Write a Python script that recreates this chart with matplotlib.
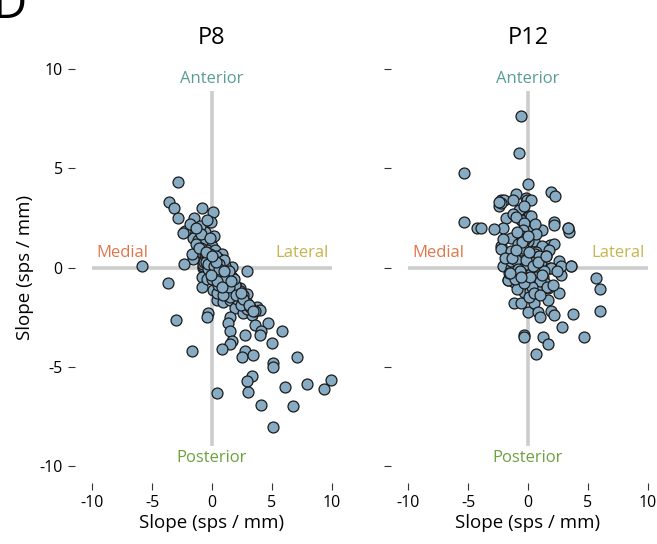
import matplotlib
matplotlib.use("Agg")
import matplotlib.pyplot as plt
import numpy as np

plt.rcParams['font.family'] = ['Open Sans', 'DejaVu Sans']
plt.rcParams['axes.unicode_minus'] = False

# P8 slopes (medial-lateral, anterior-posterior), sps / mm
p8_x = [-2.8, -3.6, -3.2, -0.8, 0.1, -2.8, -1.5, -0.1, -2.3, -1.4, -0.6, -1.0,
        -1.6, -1.2, -0.6, 0.0, -1.0, -0.6, -1.6, -0.6, 0.1, -5.8, -0.75, 0.1,
        -0.4, 0.25, 0.8, 0.5, -0.75, 0.9, 1.7, 2.9, -2.25, -2.4, -1.7, -2.3,
        -0.8, -0.8, 0.1, 0.9, 1.7, 2.3, 2.9, 0.4, 0.9, 1.5, 2.2, 2.9, 3.75,
        4.0, 1.9, 2.6, 3.3, -0.3, -0.4, 1.5, 1.3, 3.6, 4.7, 5.8, 1.5, 4.1,
        4.0, 2.75, 1.7, 1.5, 5.0, -1.7, 0.8, 2.75, 2.5, 3.4, 7.1, 5.1, 5.1,
        3.3, 2.9, 7.9, 6.1, 9.9, 9.3, 0.4, 3.0, 4.1, 6.75, 5.1, -3.7, -3.0,
        -0.75, 0.0, 1.5, -0.4, 0.4, 1.3, 2.0, -0.7, 0.0, 0.7, 1.7, 1.0, 0.0,
        0.8, 1.6, 2.3, 0.4, 1.2, 2.1, 2.9, 3.6, 0.5, 1.5, 2.4, 0.3, 1.1,
        -0.3, 0.6, 1.9, 2.6, -1.3, -0.2, 0.5, 1.2, 2.2, 3.2, -0.5, 0.2,
        1.0, 1.8, 0.3, -0.9, 0.6, 1.4, -0.1, 0.9,
        -1.1, -0.5, -0.9, -0.2, -0.3, 0.2, 0.6, 1.1, 0.4, 1.4, 2.0, 2.6,
        3.1, 3.4, -0.1, 0.3, 1.0, 1.6, 0.0, -1.8, -1.3, -0.4, 0.8, 2.4]
p8_y = [4.3, 3.3, 3.0, 3.0, 2.8, 2.5, 2.5, 2.3, 1.8, 1.9, 1.8, 2.1,
        1.5, 1.4, 1.3, 1.1, 0.76, 0.6, 0.45, 0.45, 0.5, 0.1, 0.0, -0.05,
        0.9, 0.9, 0.7, 0.5, 0.1, -0.05, 0.05, -0.2, 1.85, 1.75, 0.7, 0.2,
        -0.5, -1.0, -1.15, -0.8, -1.15, -1.05, -1.35, -1.65, -1.75, -1.65, -1.75, -1.8, -2.0,
        -2.15, -2.05, -2.3, -2.4, -2.3, -2.5, -2.5, -2.8, -2.9, -2.8, -3.2, -3.2, -3.2,
        -3.4, -3.4, -3.7, -3.85, -3.8, -4.2, -4.1, -4.2, -4.5, -4.4, -4.5, -4.8, -5.0,
        -5.45, -5.7, -5.85, -6.0, -5.65, -6.1, -6.3, -6.25, -6.95, -7.0, -8.05, -0.8, -2.67,
        0.2, 0.0, -0.9, -0.6, -0.3, -0.7, -1.0, 0.3, -0.6, -0.4, -0.5, -0.5, -0.2,
        -0.3, -0.8, -1.2, -1.3, -1.1, -1.6, -2.1, -2.2, -0.9, -1.5, -1.9, 0.6, 0.1,
        -0.1, -0.1, -0.9, -1.4, 1.2, 0.7, 0.3, -0.3, -1.4, -2.0, 0.3, 1.6,
        0.4, -0.6, -0.4, 1.0, 0.2, -0.2, 0.3, -1.4,
        1.0, 0.8, 1.7, 1.5, 0.2, 0.1, -0.1, -0.6, -0.7, -1.0, -1.4, -1.6,
        -1.9, -2.2, -0.4, 0.3, -0.2, -0.7, 0.6, 2.2, 2.0, 2.4, -1.0, -1.3]

# P12 slopes
p12_x = [-0.6, -0.75, -5.3, 0.0, -1.0, -0.15, -2.25, -2.0, -2.4, -1.25, -0.75, -1.8,
         -2.1, -2.8, -5.3, -4.25, -1.4, -0.8, -2.25, -1.7, -0.75, -2.1, -1.4, -0.75,
         1.9, 2.25, -0.1, 0.25, 0.1, 2.2, 1.2, 3.3, 3.4, 0.1, -0.6, 0.5, 1.8,
         1.5, 2.6, 3.6, 2.75, 5.7, 0.3, 1.1, -1.4, 0.8, 1.8, -1.65, -1.2, -0.3,
         -1.7, -0.85, -0.4, -1.2, -0.6, 0.0, -0.3, -0.35, 0.0, 0.85, 1.9, 2.75,
         3.6, 0.65, 1.65, 2.6, 6.0, 0.5, 1.65, 0.8, 1.9, 2.2, 1.0, 3.75, 6.0,
         2.8, -0.3, 1.25, 1.65, 4.65, 0.65, -0.35, -1.25, 0.25, -2.25, -1.0, -0.3,
         -0.4, 2.2, -0.5, -3.9, -2.1, 0.0, -0.4, 1.2, 2.2, 3.3, -2.25, -1.4,
         0.0, 0.65, 1.75, -2.4, -0.8, 0.25, 1.25, 1.5, 0.3, -0.5, 0.9, -1.0,
         0.4, 1.3, -0.2, 0.6, -1.6, 0.7, -0.9, 1.4, 0.2, -0.6, 1.0, -0.1, 0.5,
         -1.1, 0.9, 0.1, -0.4, 1.6, -0.8, 0.3, 2.1, -1.9, 0.6,
         -0.2, 0.4, -0.7, 0.8, -1.3, 1.2, 0.1, -0.5, 0.5, -1.0, 1.5, -0.3,
         0.2, 0.7, -0.9, 2.4, -1.5, 0.0, 1.0, -0.6]
p12_y = [7.65, 5.75, 4.75, 4.2, 3.7, 3.5, 3.4, 3.4, 3.1, 3.4, 2.9, 2.5,
         2.0, 1.95, 2.3, 2.0, 1.5, 1.2, 1.1, 0.7, 0.75, 0.1, 0.0, 0.35,
         3.8, 3.6, 3.4, 3.4, 2.6, 2.3, 1.9, 2.0, 1.8, 2.1, 2.4, 1.35, 1.15,
         0.95, 0.35, 0.1, -0.4, -0.55, 0.5, 0.2, 0.35, -0.15, 0.0, -0.65, -0.75, -1.25,
         -0.65, -0.15, 0.0, -1.8, -1.8, -2.25, -3.4, 0.0, 0.0, 0.0, 0.0, 0.1,
         0.1, -0.9, -1.05, -1.3, -1.1, -1.8, -1.65, -2.25, -2.2, -2.4, -2.5, -2.35, -2.2,
         -3.0, -3.5, -3.5, -3.85, -3.5, -4.35, 3.1, 2.7, 2.6, 3.25, 2.55, 2.25,
         1.9, 2.15, 1.6, 2.0, 1.45, 1.35, 1.25, 1.1, 1.2, 2.0, 0.95, 0.85,
         0.75, 0.8, 0.9, 3.3, 0.6, -0.3, -0.5, 0.6, -0.6, -0.4, -0.9, 0.4,
         0.5, -0.2, 1.5, 0.7, -0.3, -0.5, -1.1, -0.8, -1.2, 0.9, -0.7, 0.2, 0.3,
         -0.6, 0.6, -1.5, 1.0, -1.0, -0.1, -1.0, -0.9, 0.5, 2.2,
         0.4, 0.1, -0.2, 0.3, 0.5, -0.4, 0.8, 1.3, -1.3, 0.9, 0.6, -0.8,
         -0.5, 1.7, 1.8, -0.2, -0.3, 1.6, -1.4, -0.5]

panels = [("P8", p8_x, p8_y), ("P12", p12_x, p12_y)]
ticks = [-10, -5, 0, 5, 10]

fig = plt.figure(figsize=(6.57, 5.44), dpi=100)
lefts = [92 / 657, 408 / 657]
w = 240 / 657
b = 78 / 544
h = 397 / 544

for i, (name, xs, ys) in enumerate(panels):
    ax = fig.add_axes([lefts[i], b, w, h])
    ax.set_xlim(-10, 10)
    ax.set_ylim(-10, 10)
    # cross-hair through the origin
    ax.plot([-10, 10], [0, 0], color="#cdcdcd", lw=2.6, zorder=1, solid_capstyle="butt")
    ax.plot([0, 0], [-9.0, 8.9], color="#cdcdcd", lw=2.6, zorder=1, solid_capstyle="butt")
    ax.scatter(xs, ys, s=62, facecolor="#88abc4", edgecolor="#1a1a1a",
               linewidth=0.9, zorder=3, clip_on=False)

    ax.text(0, 9.5, "Anterior", color="#5a9d97", fontsize=12, ha="center", va="center")
    ax.text(0, -9.6, "Posterior", color="#6aa33e", fontsize=12, ha="center", va="center")
    ax.text(-7.5, 0.75, "Medial", color="#e0774c", fontsize=12, ha="center", va="center")
    ax.text(7.5, 0.75, "Lateral", color="#c8b44e", fontsize=12, ha="center", va="center")

    ax.set_title(name, fontsize=17, pad=18)
    for s in ["top", "right"]:
        ax.spines[s].set_visible(False)
    ax.spines["left"].set_position(("outward", 12))
    ax.spines["bottom"].set_position(("outward", 12))
    ax.spines["left"].set_visible(False)
    ax.spines["bottom"].set_visible(False)
    ax.set_xticks(ticks)
    ax.set_yticks(ticks)
    ax.tick_params(axis="both", length=5, width=0.8, color="#333333",
                   labelsize=11.5, pad=4)
    ax.set_xlabel("Slope (sps / mm)", fontsize=13.5, labelpad=2)
    if i == 0:
        ax.set_ylabel("Slope (sps / mm)", fontsize=13.5, labelpad=4)
    else:
        ax.set_yticklabels([])

fig.text(27 / 657, 1 - 18 / 544, "D", fontsize=34, ha="right", va="baseline")

fig.savefig("out.png", dpi=100)
